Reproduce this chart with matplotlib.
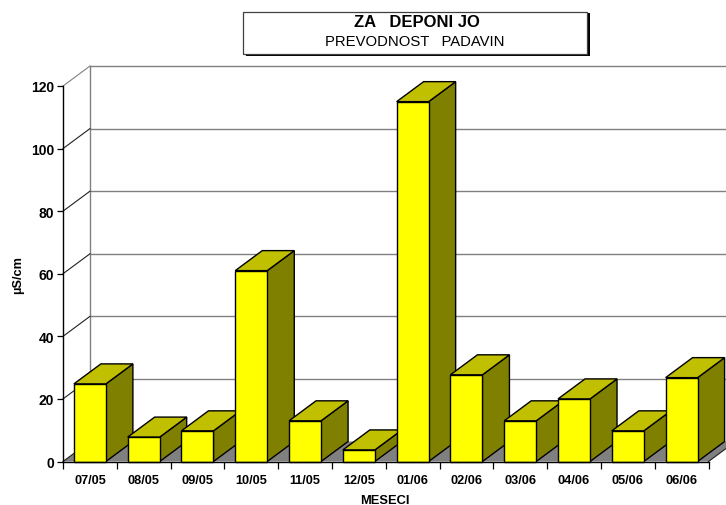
from matplotlib import pyplot as plt
from matplotlib.patches import Polygon, Rectangle

months = ["07/05", "08/05", "09/05", "10/05", "11/05", "12/05",
          "01/06", "02/06", "03/06", "04/06", "05/06", "06/06"]
conductivity = [24.8, 7.8, 9.8, 61, 13, 3.7, 115, 27.7, 13, 20, 9.8, 26.8]
y_ticks = [0, 20, 40, 60, 80, 100, 120]

W, H = 726, 506
# plot area in pixels
LEFT, RIGHT, BOTTOM, TOP = 63, 708.5, 462.5, 87
# fake 3d depth, in data units
DX = 27 / ((RIGHT - LEFT) / 12)
DY = 20 / ((BOTTOM - TOP) / 120)
BAR_W = 0.595

plt.rcParams["font.family"] = ["Liberation Sans", "DejaVu Sans"]

fig = plt.figure(figsize=(W / 100, H / 100), dpi=100)
ax = fig.add_axes([LEFT / W, 1 - BOTTOM / H, (RIGHT - LEFT) / W, (BOTTOM - TOP) / H])
ax.set_xlim(0, 12)
ax.set_ylim(0, 120)
ax.patch.set_visible(False)
for name in ["top", "right"]:
    ax.spines[name].set_visible(False)
ax.spines["left"].set_linewidth(1.0)
ax.spines["bottom"].set_linewidth(1.0)
ax.spines["bottom"].set_zorder(20)

# floor
ax.add_patch(Polygon([(0, 0), (12, 0), (12 + DX, DY), (DX, DY)], closed=True,
                     fc="#808080", ec="none", zorder=1, clip_on=False))

# walls and grid
ax.plot([DX, DX], [DY, 120 + DY], color="#808080", lw=1.0, zorder=1, clip_on=False)
for t in y_ticks:
    if t > 0:
        ax.plot([DX, 13], [t + DY, t + DY], color="#808080", lw=1.0, zorder=1, clip_on=False)
    ax.plot([0, DX], [t, t + DY], color="#808080" if t == 120 else "#202020", lw=0.8,
            zorder=1, clip_on=False)
ax.plot([12, 12 + DX], [0, DY], color="#202020", lw=0.8, zorder=1, clip_on=False)

# bars
for i, v in enumerate(conductivity):
    x0 = i + 0.5 - BAR_W / 2
    x1 = x0 + BAR_W
    z = 3 + i
    ax.add_patch(Polygon([(x1, 0), (x1 + DX, DY), (x1 + DX, v + DY), (x1, v)], closed=True,
                         fc="#808000", ec="black", lw=1.0, zorder=z, clip_on=False))
    ax.add_patch(Polygon([(x0, v), (x0 + DX, v + DY), (x1 + DX, v + DY), (x1, v)], closed=True,
                         fc="#c0c000", ec="black", lw=1.0, zorder=z, clip_on=False))
    ax.add_patch(Rectangle((x0, 0), BAR_W, v, fc="#ffff00", ec="black", lw=1.0, zorder=z,
                           clip_on=False))

ax.set_yticks(y_ticks)
ax.set_yticklabels(y_ticks, fontsize=10, fontweight="bold")
for label in ax.get_yticklabels():
    label.set_y(0)
ax.tick_params(axis="y", length=4.3, width=0.9, pad=2)
ax.set_xticks(range(13))
ax.set_xticklabels([])
ax.tick_params(axis="x", length=4.7, width=0.9)
for i, m in enumerate(months):
    ax.annotate(m, (i + 0.5, 0), xytext=(0, -9.2), textcoords="offset points",
                ha="center", va="top", fontsize=9.2, fontweight="bold")

fig.text(18 / W, 1 - 275 / H, "µS/cm", rotation=90, ha="center", va="center",
         fontsize=9.2, fontweight="bold")
fig.text(385 / W, 1 - 501 / H, "MESECI", ha="center", va="center",
         fontsize=9.3, fontweight="bold")

# title box with drop shadow
fig.add_artist(Rectangle((246 / W, 1 - 57 / H), 344 / W, 43 / H, transform=fig.transFigure,
                         fc="black", ec="none"))
fig.add_artist(Rectangle((243.5 / W, 1 - 54.5 / H), 343.5 / W, 42 / H, transform=fig.transFigure,
                         fc="white", ec="#404040", lw=0.9))
fig.text(417 / W, 1 - 22.5 / H, "ZA   DEPONI JO", ha="center", va="center",
         fontsize=12, fontweight="bold")
fig.text(415 / W, 1 - 42 / H, "PREVODNOST   PADAVIN", ha="center", va="center", fontsize=10.7)

fig.savefig("out.png", dpi=100)
